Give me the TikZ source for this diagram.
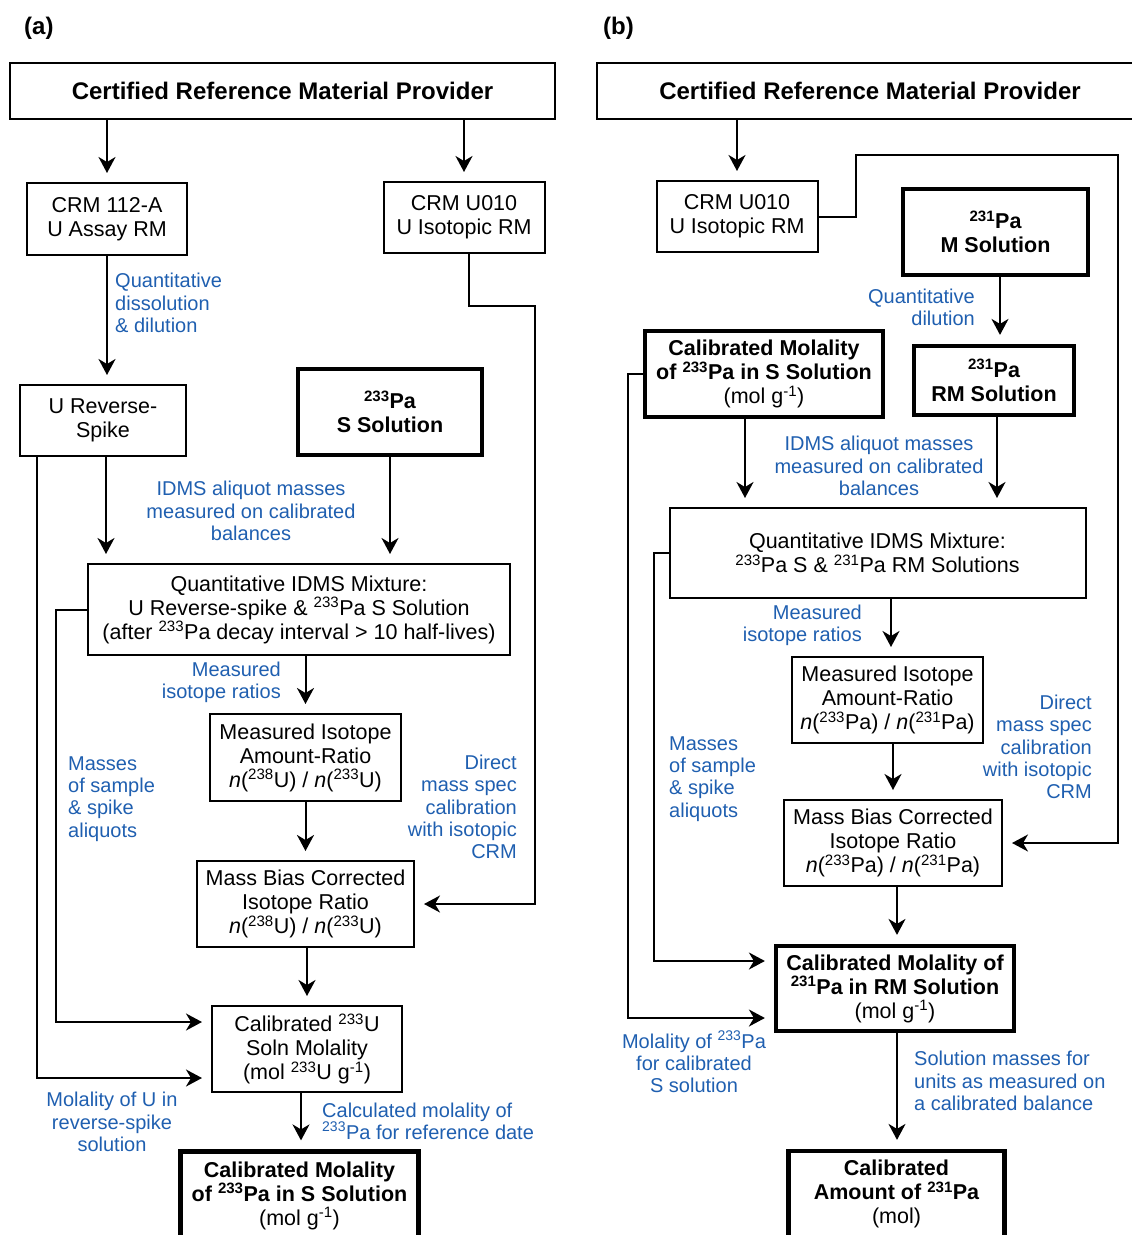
\documentclass[tikz,border=0pt]{standalone}
\usepackage{fontspec}
\setmainfont{Liberation Sans}
\usetikzlibrary{arrows.meta}
\definecolor{blueC}{RGB}{31,95,176}
\newcommand\iso[1]{\textsuperscript{#1}}
\newcommand\boxfont{\fontsize{21.5}{24}\selectfont}
\newcommand\blufont{\fontsize{20}{22.3}\selectfont}
\newcommand\ttlfont{\fontsize{24}{28}\selectfont\bfseries}
\tikzset{
  box/.style={draw, line width=2pt, inner sep=0pt, align=center, font=\boxfont},
  tbox/.style={box, line width=4.2pt},
  ttlbox/.style={box, font=\ttlfont},
  lbl/.style={text=blueC, font=\blufont, inner sep=0pt},
  conn/.style={line width=2pt, -{Stealth[length=16pt,width=17pt,inset=5pt]}, shorten >=9pt},
  plain/.style={line width=2pt}
}
\begin{document}
\begin{tikzpicture}[x=1pt,y=-1pt]
\useasboundingbox (0,0) rectangle (1132,1235);
% ---------------- panel (a) ----------------
\node[font=\ttlfont, anchor=west, inner sep=0pt] (la) at (24,28) {(a)};
\node[ttlbox, minimum width=545, minimum height=56] (tA) at (282.5,91) {Certified Reference Material Provider};
\node[box, minimum width=160, minimum height=72] (c112) at (107,219) {CRM 112-A\\U Assay RM};
\node[box, minimum width=161, minimum height=71] (cuA) at (464,217.5) {CRM U010\\U Isotopic RM};
\node[box, minimum width=166, minimum height=71] (revA) at (103,420.5) {U Reverse-\\Spike};
\node[tbox, minimum width=184, minimum height=86] (sA) at (390,412) {\bfseries\iso{233}Pa\\\bfseries S Solution};
\node[box, minimum width=422, minimum height=91] (mixA) at (299,609.5) {Quantitative IDMS Mixture:\\U Reverse-spike \& \iso{233}Pa S Solution\\(after \iso{233}Pa decay interval > 10 half-lives)};
\node[box, minimum width=191, minimum height=87] (miA) at (305.5,757.5) {Measured Isotope\\Amount-Ratio\\\textit{n}(\iso{238}U) / \textit{n}(\iso{233}U)};
\node[box, minimum width=217, minimum height=86] (msA) at (305.5,904) {Mass Bias Corrected\\Isotope Ratio\\\textit{n}(\iso{238}U) / \textit{n}(\iso{233}U)};
\node[box, minimum width=190, minimum height=86] (calA) at (307,1049) {Calibrated \iso{233}U\\Soln Molality\\(mol \iso{233}U g\iso{-1})};
\node[tbox, minimum width=238, minimum height=88] (finA) at (299.5,1195.5) {\bfseries Calibrated Molality\\\bfseries of \iso{233}Pa in S Solution\\(mol g\iso{-1})};

\draw[conn] (tA.south -| c112.north) -- (c112.north);
\draw[conn] (tA.south -| cuA.north) -- (cuA.north);
\draw[conn] (c112.south) -- (c112.south |- revA.north);
\draw[conn] (revA.south -| 106,0) -- (106,0 |- mixA.north);
\draw[conn] (sA.south) -- (sA.south |- mixA.north);
\draw[conn] (mixA.south -| miA.north) -- (miA.north);
\draw[conn] (miA.south) -- (miA.south |- msA.north);
\draw[conn] (msA.south -| calA.north) -- (calA.north);
\draw[conn] (calA.south -| 301,0) -- (301,0 |- finA.north);
\draw[conn] (cuA.south -| 469,0) -- (469,306) -- (535,306) |- (msA.east);
\draw[conn] (mixA.west) -- ++(-31,0) |- (calA.west |- 0,1022);
\draw[conn] (revA.south -| 37,0) |- (calA.west |- 0,1078);

\node[lbl, anchor=west, align=left] (qa) at (115,303) {Quantitative\\dissolution\\\& dilution};
\node[lbl, align=center] (ia) at (251,511) {IDMS aliquot masses\\measured on calibrated\\balances};
\node[lbl, anchor=east, align=right] (ra) at (281,682) {Measured\\isotope ratios};
\node[lbl, anchor=west, align=left] (sa) at (68,799) {Masses\\of sample\\\& spike\\aliquots};
\node[lbl, anchor=east, align=right] (da) at (517,807) {Direct\\mass spec\\calibration\\with isotopic\\CRM};
\node[lbl, align=center] (ua) at (112,1122) {Molality of U in\\reverse-spike\\solution};
\node[lbl, anchor=west, align=left] (ca) at (322,1121) {Calculated molality of\\\iso{233}Pa for reference date};

% ---------------- panel (b) ----------------
\node[font=\ttlfont, anchor=west, inner sep=0pt] (lb) at (603,28) {(b)};
\node[ttlbox, minimum width=546, minimum height=56] (tB) at (870,91) {Certified Reference Material Provider};
\node[box, minimum width=161, minimum height=71] (cuB) at (737,216.5) {CRM U010\\U Isotopic RM};
\node[tbox, minimum width=185, minimum height=86] (mB) at (995.5,232) {\bfseries\iso{231}Pa\\\bfseries M Solution};
\node[tbox, minimum width=160, minimum height=69] (rmB) at (994,380.5) {\bfseries\iso{231}Pa\\\bfseries RM Solution};
\node[tbox, minimum width=238, minimum height=86] (sB) at (764,374) {\bfseries Calibrated Molality\\\bfseries of \iso{233}Pa in S Solution\\(mol g\iso{-1})};
\node[box, minimum width=416, minimum height=90] (mixB) at (877.5,553) {Quantitative IDMS Mixture:\\\iso{233}Pa S \& \iso{231}Pa RM Solutions};
\node[box, minimum width=191, minimum height=86] (miB) at (887.5,700) {Measured Isotope\\Amount-Ratio\\\textit{n}(\iso{233}Pa) / \textit{n}(\iso{231}Pa)};
\node[box, minimum width=218, minimum height=86] (msB) at (893,843) {Mass Bias Corrected\\Isotope Ratio\\\textit{n}(\iso{233}Pa) / \textit{n}(\iso{231}Pa)};
\node[tbox, minimum width=238, minimum height=85] (calB) at (895,988.5) {\bfseries Calibrated Molality of\\\bfseries\iso{231}Pa in RM Solution\\(mol g\iso{-1})};
\node[tbox, minimum width=216, minimum height=86] (finB) at (896.5,1194) {\bfseries Calibrated\\\bfseries Amount of \iso{231}Pa\\(mol)};

\draw[conn] (tB.south -| cuB.north) -- (cuB.north);
\draw[conn] (mB.south -| 1000,0) -- (1000,0 |- rmB.north);
\draw[conn] (sB.south -| 745,0) -- (745,0 |- mixB.north);
\draw[conn] (rmB.south -| 997,0) -- (997,0 |- mixB.north);
\draw[conn] (mixB.south -| 891,0) -- (891,0 |- miB.north);
\draw[conn] (miB.south -| 893,0) -- (893,0 |- msB.north);
\draw[conn] (msB.south -| 897,0) -- (897,0 |- calB.north);
\draw[conn] (calB.south -| 897,0) -- (897,0 |- finB.north);
\draw[conn] (cuB.east) -| (856,155) -- (1118,155) |- (msB.east);
\draw[conn] (sB.west) -- ++(-15,0) |- (calB.west |- 0,1018);
\draw[conn] (mixB.west) -- ++(-15,0) |- (calB.west |- 0,961);

\node[lbl, anchor=east, align=right] (qb) at (975,307) {Quantitative\\dilution};
\node[lbl, align=center] (ib) at (879,466) {IDMS aliquot masses\\measured on calibrated\\balances};
\node[lbl, anchor=east, align=right] (rb) at (862,625) {Measured\\isotope ratios};
\node[lbl, anchor=west, align=left] (sb) at (669,779) {Masses\\of sample\\\& spike\\aliquots};
\node[lbl, anchor=east, align=right] (db) at (1092,747) {Direct\\mass spec\\calibration\\with isotopic\\CRM};
\node[lbl, align=center] (mb) at (694,1062) {Molality of \iso{233}Pa\\for calibrated\\S solution};
\node[lbl, anchor=west, align=left] (ub) at (914,1081) {Solution masses for\\units as measured on\\a calibrated balance};
\end{tikzpicture}
\end{document}
